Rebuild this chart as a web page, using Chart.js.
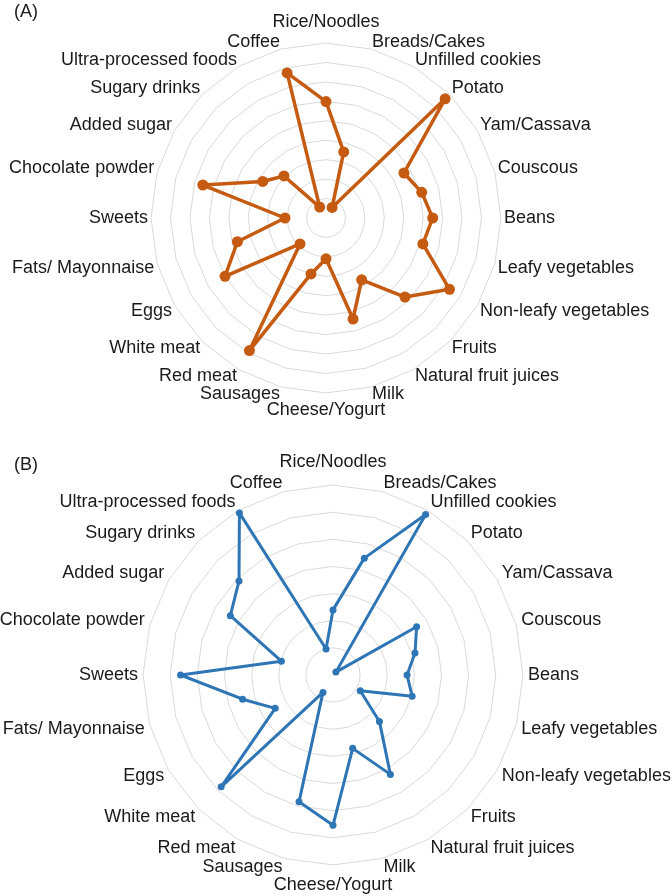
<!DOCTYPE html>
<html>
<head>
<meta charset="utf-8">
<script src="https://cdn.jsdelivr.net/npm/chart.js@4.4.1/dist/chart.umd.min.js"></script>
<style>
  body { margin: 0; background: #fff; }
  #page { position: relative; width: 672px; height: 896px; overflow: hidden; background: #fff; }
  .painel { position: absolute; }
  .letra { position: absolute; left: 14px; font: 18px "Liberation Sans", Arial, sans-serif; color: #1a1a1a; }
</style>
</head>
<body>
<div id="page">
  <canvas id="chartA" class="painel" width="800" height="440" style="left:-74px; top:-3px"></canvas>
  <canvas id="chartB" class="painel" width="800" height="474" style="left:-67px; top:437px"></canvas>
  <div class="letra" style="top:1px">(A)</div>
  <div class="letra" style="top:454px">(B)</div>
</div>
<script>
// categories, clockwise from the top
const categorias = [
  'Rice/Noodles', 'Breads/Cakes', 'Unfilled cookies', 'Potato', 'Yam/Cassava',
  'Couscous', 'Beans', 'Leafy vegetables', 'Non-leafy vegetables', 'Fruits',
  'Natural fruit juices', 'Milk', 'Cheese/Yogurt', 'Sausages', 'Red meat',
  'White meat', 'Eggs', 'Fats/ Mayonnaise', 'Sweets', 'Chocolate powder',
  'Added sugar', 'Sugary drinks', 'Ultra-processed foods', 'Coffee'
];

// panel (A) values, scale 0-9
const valoresA = [
  5.99, 3.52, 0.63, 8.67, 4.63, 5.10, 5.49, 5.16, 7.34, 5.75, 3.67, 5.38,
  2.10, 2.98, 7.88, 1.89, 6.00, 4.72, 2.11, 6.56, 3.76, 3.06, 0.65, 7.73
];

// panel (B) values, scale 0-7
const valoresB = [
  2.40, 4.46, 6.83, 0.15, 3.56, 3.13, 2.73, 3.02, 1.16, 2.42, 4.23, 2.80,
  5.54, 4.84, 0.74, 5.83, 2.46, 3.45, 5.62, 1.97, 4.37, 4.90, 6.90, 0.99
];

const maxA = 9;
const maxB = 7;

function radar(id, valores, cor, max, pad, raioPonto, espessura) {
  const ctx = document.getElementById(id).getContext('2d');
  return new Chart(ctx, {
    type: 'radar',
    data: {
      labels: categorias,
      datasets: [{
        data: valores,
        borderColor: cor,
        backgroundColor: cor,
        pointBackgroundColor: cor,
        pointBorderColor: cor,
        borderWidth: espessura,
        borderJoinStyle: 'round',
        pointRadius: raioPonto,
        pointBorderWidth: 0,
        fill: false,
        tension: 0
      }]
    },
    options: {
      responsive: false,
      animation: false,
      layout: { padding: { top: 20, bottom: 20 } },
      plugins: {
        legend: { display: false },
        tooltip: { enabled: false }
      },
      scales: {
        r: {
          min: 0,
          max: max,
          ticks: { display: false, stepSize: 1 },
          grid: { color: '#d9d9d9', lineWidth: 1, circular: false },
          angleLines: { display: false },
          pointLabels: {
            color: '#1a1a1a',
            // small line height keeps the labels close to their spoke
            font: { family: '"Liberation Sans", Arial, sans-serif', size: 18, lineHeight: 0.45 },
            padding: (c) => c.index === 0 ? pad.topo : (c.index === 12 ? pad.base : pad.lado)
          }
        }
      }
    }
  });
}

radar('chartA', valoresA, '#c55a11', maxA, { topo: 17, base: 13, lado: 3 }, 5.5, 3.5);
radar('chartB', valoresB, '#2e75b6', maxB, { topo: 19, base: 16, lado: 5 }, 3.5, 3);
</script>
</body>
</html>
